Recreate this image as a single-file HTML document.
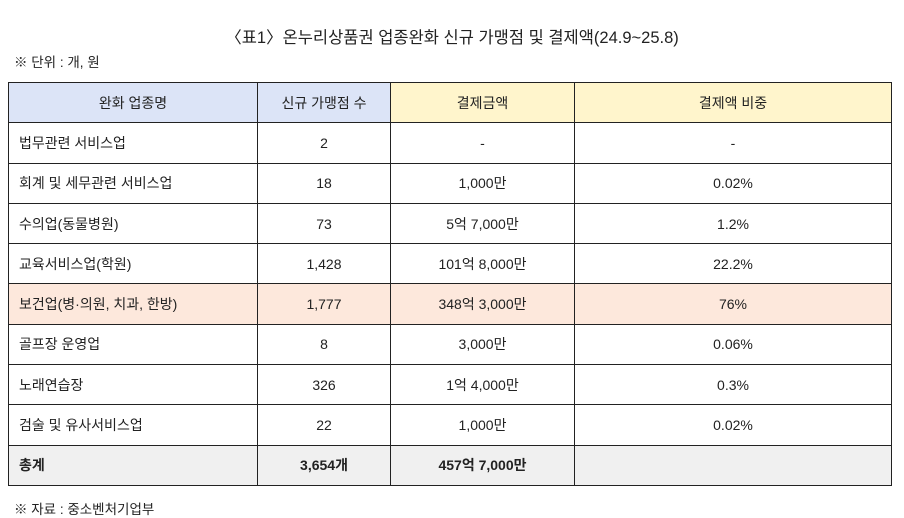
<!DOCTYPE html><html><head><meta charset="utf-8"><style>
body{margin:0;width:904px;height:518px;background:#fff;font-family:"Liberation Sans","Noto Sans CJK KR",sans-serif;color:#222;position:relative;overflow:hidden}
.t{position:absolute;white-space:nowrap}
table{position:absolute;left:8px;top:82px;border-collapse:collapse;font-size:14px}
td{border:1px solid #222;text-align:center;padding:0;height:39.3px}
td.l{text-align:left;padding-left:10px}
</style></head><body>
<div class="t" style="left:0;width:904px;text-align:center;top:24px;font-size:16.5px">〈표1〉온누리상품권 업종완화 신규 가맹점 및 결제액(24.9~25.8)</div>
<div class="t" style="left:14px;top:51px;font-size:13.5px">※ 단위 : 개, 원</div>
<table>
<colgroup><col style="width:249px"><col style="width:133px"><col style="width:184px"><col style="width:317px"></colgroup>
<tr><td style="background:#dce4f7;height:39px">완화 업종명</td><td style="background:#dce4f7">신규 가맹점 수</td><td style="background:#fff5cc">결제금액</td><td style="background:#fff5cc">결제액 비중</td></tr>
<tr><td class="l">법무관련 서비스업</td><td>2</td><td>-</td><td>-</td></tr>
<tr><td class="l">회계 및 세무관련 서비스업</td><td>18</td><td>1,000만</td><td>0.02%</td></tr>
<tr><td class="l">수의업(동물병원)</td><td>73</td><td>5억 7,000만</td><td>1.2%</td></tr>
<tr><td class="l">교육서비스업(학원)</td><td>1,428</td><td>101억 8,000만</td><td>22.2%</td></tr>
<tr style="background:#fde8dc"><td class="l">보건업(병·의원, 치과, 한방)</td><td>1,777</td><td>348억 3,000만</td><td>76%</td></tr>
<tr><td class="l">골프장 운영업</td><td>8</td><td>3,000만</td><td>0.06%</td></tr>
<tr><td class="l">노래연습장</td><td>326</td><td>1억 4,000만</td><td>0.3%</td></tr>
<tr><td class="l">검술 및 유사서비스업</td><td>22</td><td>1,000만</td><td>0.02%</td></tr>
<tr style="background:#f0f0f0;font-weight:bold"><td class="l">총계</td><td>3,654개</td><td>457억 7,000만</td><td></td></tr>
</table>
<div class="t" style="left:14px;top:498px;font-size:13.5px">※ 자료 : 중소벤처기업부</div>
</body></html>
